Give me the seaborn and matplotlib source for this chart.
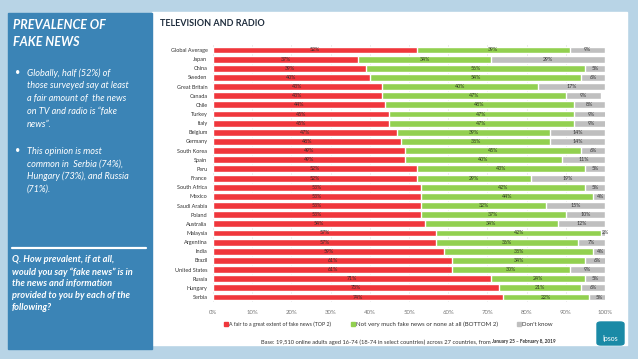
import numpy as np
import pandas as pd
import matplotlib
matplotlib.use("Agg")
import matplotlib.pyplot as plt
import seaborn as sns
from matplotlib.patches import Rectangle, FancyBboxPatch
from matplotlib.lines import Line2D

# data
countries = ["Global Average", "Japan", "China", "Sweden", "Great Britain", "Canada",
             "Chile", "Turkey", "Italy", "Belgium", "Germany", "South Korea", "Spain",
             "Peru", "France", "South Africa", "Mexico", "Saudi Arabia", "Poland",
             "Australia", "Malaysia", "Argentina", "India", "Brazil", "United States",
             "Russia", "Hungary", "Serbia"]
top2 = [52, 37, 39, 40, 43, 43, 44, 45, 45, 47, 48, 49, 49, 52, 52, 53, 53, 53, 53,
        54, 57, 57, 59, 61, 61, 71, 73, 74]
bottom2 = [39, 34, 56, 54, 40, 47, 48, 47, 47, 39, 38, 45, 40, 43, 29, 42, 44, 32, 37,
           34, 42, 36, 38, 34, 30, 24, 21, 22]
dont_know = [9, 29, 5, 6, 17, 9, 8, 9, 9, 14, 14, 6, 11, 5, 19, 5, 4, 15, 10, 12, 2,
             7, 4, 6, 9, 5, 6, 5]
x_ticks = [0, 10, 20, 30, 40, 50, 60, 70, 80, 90, 100]
series_labels = ["A fair to a great extent of fake news (TOP 2)",
                 "Not very much fake news or none at all (BOTTOM 2)",
                 "Don't know"]

RED = "#f0373c"
GREEN = "#92d050"
GRAY = "#bfbfbf"
BG = "#b8d4e6"
PANEL = "#3b84b6"

sns.set_theme(style="white")
plt.rcParams["font.family"] = ["Lato", "DejaVu Sans"]

df = pd.DataFrame({"country": countries, "top2": top2, "bottom2": bottom2, "dk": dont_know})
df["cum2"] = df["top2"] + df["bottom2"]
df["cum3"] = df["cum2"] + df["dk"]

W, H = 638, 359
fig = plt.figure(figsize=(W / 100, H / 100), dpi=100, facecolor=BG)

def px_rect(x0, y0, x1, y1, color):
    fig.patches.append(Rectangle((x0 / W, 1 - y1 / H), (x1 - x0) / W, (y1 - y0) / H,
                                 transform=fig.transFigure, color=color, zorder=0.2))

px_rect(152, 12, 627, 345, "white")
px_rect(8, 13, 152, 349, PANEL)

ax = fig.add_axes([213 / W, 1 - 301.6 / H, (605 - 213) / W, (301.6 - 45.4) / H])
ax.set_zorder(1)
ax.patch.set_alpha(0)

# stacked bars drawn as overlapping cumulative totals
sns.barplot(data=df, y="country", x="cum3", color=GRAY, orient="h", width=0.75,
            saturation=1, ax=ax, zorder=2)
sns.barplot(data=df, y="country", x="cum2", color=GREEN, orient="h", width=0.75,
            saturation=1, ax=ax, zorder=3)
sns.barplot(data=df, y="country", x="top2", color=RED, orient="h", width=0.75,
            saturation=1, ax=ax, zorder=4)

for i, row in df.iterrows():
    ax.text(row["top2"] / 2, i, f"{row['top2']}%", ha="center", va="center",
            fontsize=3.8, color="#3a2a2a", zorder=5)
    ax.text(row["top2"] + row["bottom2"] / 2, i, f"{row['bottom2']}%", ha="center",
            va="center", fontsize=3.8, color="#2f3a22", zorder=5)
    ax.text(row["cum2"] + row["dk"] / 2, i, f"{row['dk']}%", ha="center",
            va="center", fontsize=3.8, color="#333333", zorder=5)

ax.set_xlim(0, 100)
ax.set_ylim(len(countries) - 0.5, -0.5)
ax.set_xticks(x_ticks)
ax.set_xticklabels([f"{t}%" for t in x_ticks], fontsize=4.3, color="#777777")
ax.tick_params(axis="x", length=0, pad=6)
ax.tick_params(axis="y", length=0, pad=4, labelsize=4.0, labelcolor="#333333")
ax.set_xlabel("")
ax.set_ylabel("")
ax.xaxis.grid(True, color="#d9d9d9", linewidth=0.5, zorder=0)
ax.set_axisbelow(True)
for s in ax.spines.values():
    s.set_visible(False)

# legend entries placed like the original slide
leg_y = 1 - 324 / H
for x_px, color, label, fs in ((226, RED, series_labels[0], 3.8),
                               (353, GREEN, series_labels[1], 4.4),
                               (519, GRAY, series_labels[2], 4.3)):
    fig.add_artist(Line2D([x_px / W], [leg_y], marker="s", linestyle="", color=color,
                          markersize=2.4, transform=fig.transFigure))
    fig.text((x_px + 3) / W, leg_y, label, ha="left", va="center", fontsize=fs,
             color="#333333")

# footnote
fig.text(492 / W, 1 - 342 / H,
         "Base: 19,510 online adults aged 16-74 (18-74 in select countries) across 27 countries, from ",
         ha="right", va="center", fontsize=4.15, color="#333333")
fig.text(492 / W, 1 - 342 / H, "January 25 \u2013 February 8, 2019", ha="left",
         va="center", fontsize=3.4, color="#333333", fontweight="bold")

# title
fig.text(160 / W, 1 - 24 / H, "TELEVISION AND RADIO", ha="left", va="center",
         fontsize=6.5, fontweight="bold", color="#1f2d3d")

# left panel
fig.text(13 / W, 1 - 25 / H, "PREVALENCE OF", ha="left", va="center", fontsize=9,
         fontweight="bold", fontstyle="italic", color="white")
fig.text(13 / W, 1 - 42 / H, "FAKE NEWS", ha="left", va="center", fontsize=9,
         fontweight="bold", fontstyle="italic", color="white")

bullet1 = ["Globally, half (52%) of", "those surveyed say at least",
           "a fair amount of  the news", "on TV and radio is \u201cfake", "news\u201d."]
bullet2 = ["This opinion is most", "common in  Serbia (74%),",
           "Hungary (73%), and Russia", "(71%)."]
for lines, y0 in ((bullet1, 73), (bullet2, 151)):
    fig.text(15 / W, 1 - y0 / H, "\u2022", ha="left", va="center", fontsize=6.6,
             color="white")
    for k, line in enumerate(lines):
        fig.text(27 / W, 1 - (y0 + k * 12.8) / H, line, ha="left", va="center",
                 fontsize=6.6, fontstyle="italic", color="white")

fig.add_artist(Line2D([12 / W, 146 / W], [1 - 248 / H, 1 - 248 / H], color="white",
                      linewidth=1.6, transform=fig.transFigure))
q_lines = ["Q. How prevalent, if at all,", "would you say \u201cfake news\u201d is in",
           "the news and information", "provided to you by each of the", "following?"]
for k, line in enumerate(q_lines):
    fig.text(12 / W, 1 - (260 + k * 11.8) / H, line, ha="left", va="center",
             fontsize=6.7, fontweight="bold", fontstyle="italic", color="white")

# ipsos badge
fig.patches.append(FancyBboxPatch((597 / W, 1 - 345 / H), 27 / W, 23 / H,
                                  boxstyle="round,pad=0,rounding_size=0.006",
                                  transform=fig.transFigure, color="#1a8aa6", zorder=1))
fig.text(610.5 / W, 1 - 339 / H, "Ipsos", ha="center", va="center", fontsize=5,
         color="white")

fig.savefig("out.png", dpi=100, facecolor=BG)
